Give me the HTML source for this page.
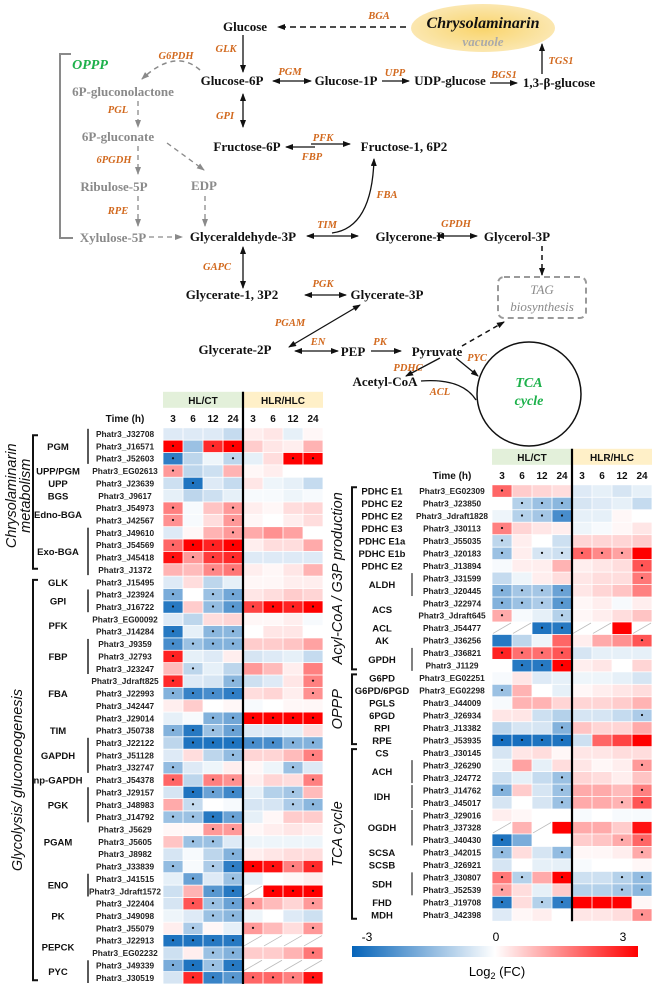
<!DOCTYPE html>
<html><head><meta charset="utf-8"><style>
html,body{margin:0;padding:0;background:#fff}
svg{display:block}
.m{font-family:"Liberation Serif",serif;font-weight:bold;font-size:13px;fill:#111;text-anchor:middle}
.g{fill:#8a8a8a}
.e{font-family:"Liberation Serif",serif;font-style:italic;font-weight:bold;font-size:10.5px;fill:#d2691e;text-anchor:middle}
.gn{font-family:"Liberation Sans",sans-serif;font-weight:bold;font-size:8.3px;fill:#222;text-anchor:middle}
.en{font-family:"Liberation Sans",sans-serif;font-weight:bold;font-size:9.5px;fill:#111;text-anchor:middle}
.hd{font-family:"Liberation Sans",sans-serif;font-weight:bold;font-size:10px;fill:#111;text-anchor:middle}
.cat{font-family:"Liberation Sans",sans-serif;font-style:italic;font-size:14.5px;fill:#111;text-anchor:middle}
</style></head><body>
<svg id="fig" width="653" height="986" viewBox="0 0 653 986" xmlns="http://www.w3.org/2000/svg">
<defs>
<marker id="ah" markerWidth="8" markerHeight="6" refX="7" refY="3" orient="auto-start-reverse" markerUnits="userSpaceOnUse"><path d="M0,0 L8,3 L0,6 z" fill="#111"/></marker>
<marker id="ahg" markerWidth="8" markerHeight="6" refX="7" refY="3" orient="auto-start-reverse" markerUnits="userSpaceOnUse"><path d="M0,0 L8,3 L0,6 z" fill="#8a8a8a"/></marker>
<linearGradient id="cbar" x1="0" x2="1" y1="0" y2="0"><stop offset="0" stop-color="#0664b9"/><stop offset="0.5" stop-color="#ffffff"/><stop offset="1" stop-color="#ff0000"/></linearGradient>
<radialGradient id="ell" cx="0.5" cy="0.5" r="0.5"><stop offset="0" stop-color="#f9d46a"/><stop offset="1" stop-color="#fbe7b0"/></radialGradient>
</defs>

<g>
<ellipse cx="483" cy="28" rx="72" ry="24" fill="url(#ell)"/>
<text x="483" y="28" class="m" style="font-style:italic;font-size:16px">Chrysolaminarin</text>
<text x="483" y="46" class="m" style="font-style:italic;font-size:13px;fill:#aaa">vacuole</text>
<line x1="406" y1="27" x2="278" y2="27" stroke="#111" stroke-width="1.5" stroke-dasharray="6,4" marker-end="url(#ah)"/>
<text x="379" y="19" class="e">BGA</text>
<text x="245" y="31" class="m">Glucose</text>
<line x1="243" y1="35" x2="243" y2="72" stroke="#111" stroke-width="1.3" marker-end="url(#ah)"/>
<text x="226" y="52" class="e">GLK</text>
<text x="232" y="85" class="m">Glucose-6P</text>
<line x1="273" y1="81" x2="311" y2="81" stroke="#111" stroke-width="1.3" marker-start="url(#ah)" marker-end="url(#ah)"/>
<text x="290" y="75" class="e">PGM</text>
<text x="346" y="85" class="m">Glucose-1P</text>
<line x1="382" y1="81" x2="409" y2="81" stroke="#111" stroke-width="1.3" marker-end="url(#ah)"/>
<text x="395" y="76" class="e">UPP</text>
<text x="450" y="85" class="m">UDP-glucose</text>
<line x1="490" y1="83" x2="517" y2="83" stroke="#111" stroke-width="1.3" marker-end="url(#ah)"/>
<text x="504" y="78" class="e">BGS1</text>
<text x="559" y="87" class="m">1,3-β-glucose</text>
<line x1="542" y1="74" x2="542" y2="44" stroke="#111" stroke-width="1.3" marker-end="url(#ah)"/>
<text x="561" y="64" class="e">TGS1</text>
<path d="M200,70 Q175,48 142,79" fill="none" stroke="#8a8a8a" stroke-width="1.5" stroke-dasharray="5,4" marker-end="url(#ahg)"/>
<text x="176" y="59" class="e">G6PDH</text>
<path d="M71,54 L60,54 L60,238 L73,238" fill="none" stroke="#8a8a8a" stroke-width="2"/>
<text x="90" y="69" class="m" style="font-style:italic;fill:#1db14b;font-size:14px">OPPP</text>
<text x="123" y="96" class="m g">6P-gluconolactone</text>
<line x1="138" y1="101" x2="138" y2="127" stroke="#8a8a8a" stroke-width="1.3" stroke-dasharray="5,4" marker-end="url(#ahg)"/>
<text x="118" y="113" class="e">PGL</text>
<text x="118" y="141" class="m g">6P-gluconate</text>
<line x1="138" y1="146" x2="138" y2="174" stroke="#8a8a8a" stroke-width="1.3" stroke-dasharray="5,4" marker-end="url(#ahg)"/>
<text x="114" y="163" class="e">6PGDH</text>
<text x="114" y="191" class="m g">Ribulose-5P</text>
<line x1="138" y1="196" x2="138" y2="226" stroke="#8a8a8a" stroke-width="1.3" stroke-dasharray="5,4" marker-end="url(#ahg)"/>
<text x="118" y="214" class="e">RPE</text>
<line x1="167" y1="143" x2="204" y2="170" stroke="#8a8a8a" stroke-width="1.3" stroke-dasharray="5,4" marker-end="url(#ahg)"/>
<text x="204" y="190" class="m g">EDP</text>
<line x1="205" y1="196" x2="205" y2="226" stroke="#8a8a8a" stroke-width="1.3" stroke-dasharray="5,4" marker-end="url(#ahg)"/>
<line x1="243" y1="94" x2="243" y2="127" stroke="#111" stroke-width="1.3" marker-start="url(#ah)" marker-end="url(#ah)"/>
<text x="225" y="119" class="e">GPI</text>
<text x="247" y="151" class="m">Fructose-6P</text>
<line x1="286" y1="147" x2="315" y2="147" stroke="#111" stroke-width="1.3" marker-start="url(#ah)"/>
<line x1="311" y1="144" x2="350" y2="144" stroke="#111" stroke-width="1.3" marker-end="url(#ah)"/>
<text x="323" y="141" class="e">PFK</text>
<text x="312" y="160" class="e">FBP</text>
<text x="404" y="151" class="m">Fructose-1, 6P2</text>
<path d="M332,233 Q372,228 374,159" fill="none" stroke="#111" stroke-width="1.3" marker-end="url(#ah)"/>
<text x="387" y="198" class="e">FBA</text>
<text x="113" y="242" class="m g">Xylulose-5P</text>
<line x1="149" y1="237" x2="182" y2="237" stroke="#8a8a8a" stroke-width="1.3" stroke-dasharray="5,4" marker-end="url(#ahg)"/>
<text x="243" y="241" class="m">Glyceraldehyde-3P</text>
<line x1="307" y1="236" x2="358" y2="236" stroke="#111" stroke-width="1.3" marker-start="url(#ah)" marker-end="url(#ah)"/>
<text x="327" y="228" class="e">TIM</text>
<text x="410" y="241" class="m">Glycerone-P</text>
<line x1="437" y1="236" x2="477" y2="236" stroke="#111" stroke-width="1.3" marker-start="url(#ah)" marker-end="url(#ah)"/>
<text x="456" y="227" class="e">GPDH</text>
<text x="517" y="241" class="m">Glycerol-3P</text>
<line x1="542" y1="246" x2="542" y2="275" stroke="#111" stroke-width="1.5" stroke-dasharray="5,4" marker-end="url(#ah)"/>
<rect x="498" y="277" width="88" height="41" rx="6" fill="none" stroke="#9a9a9a" stroke-width="2" stroke-dasharray="6,4"/>
<text x="542" y="294" class="m" style="font-style:italic;font-weight:normal;fill:#8a8a8a">TAG</text>
<text x="542" y="311" class="m" style="font-style:italic;font-weight:normal;fill:#8a8a8a">biosynthesis</text>
<line x1="243" y1="247" x2="243" y2="288" stroke="#111" stroke-width="1.3" marker-start="url(#ah)" marker-end="url(#ah)"/>
<text x="217" y="270" class="e">GAPC</text>
<text x="232" y="299" class="m">Glycerate-1, 3P2</text>
<line x1="305" y1="295" x2="346" y2="295" stroke="#111" stroke-width="1.3" marker-start="url(#ah)" marker-end="url(#ah)"/>
<text x="323" y="287" class="e">PGK</text>
<text x="387" y="299" class="m">Glycerate-3P</text>
<line x1="360" y1="305" x2="289" y2="347" stroke="#111" stroke-width="1.3" marker-start="url(#ah)" marker-end="url(#ah)"/>
<text x="290" y="326" class="e">PGAM</text>
<text x="235" y="354" class="m">Glycerate-2P</text>
<line x1="295" y1="351" x2="338" y2="351" stroke="#111" stroke-width="1.3" marker-start="url(#ah)" marker-end="url(#ah)"/>
<text x="318" y="345" class="e">EN</text>
<text x="353" y="356" class="m">PEP</text>
<line x1="371" y1="351" x2="401" y2="351" stroke="#111" stroke-width="1.3" marker-end="url(#ah)"/>
<text x="380" y="345" class="e">PK</text>
<text x="437" y="356" class="m">Pyruvate</text>
<line x1="462" y1="346" x2="504" y2="322" stroke="#111" stroke-width="1.5" stroke-dasharray="5,4" marker-end="url(#ah)"/>
<line x1="456" y1="358" x2="478" y2="376" stroke="#111" stroke-width="1.3" marker-end="url(#ah)"/>
<text x="477" y="361" class="e">PYC</text>
<line x1="440" y1="358" x2="406" y2="376" stroke="#111" stroke-width="1.3" marker-end="url(#ah)"/>
<text x="408" y="371" class="e">PDHC</text>
<text x="385" y="386" class="m">Acetyl-CoA</text>
<path d="M421,381 Q462,378 476,400" fill="none" stroke="#111" stroke-width="1.3"/>
<text x="440" y="395" class="e">ACL</text>
<circle cx="529" cy="394" r="52" fill="none" stroke="#111" stroke-width="1.5"/>
<text x="529" y="387" class="m" style="font-style:italic;fill:#1db14b;font-size:14px">TCA</text>
<text x="529" y="405" class="m" style="font-style:italic;fill:#1db14b;font-size:14px">cycle</text>
</g>

<g id="heatL"></g>
<g id="heatR"></g>

<g>
<rect x="352" y="946" width="286" height="11" fill="url(#cbar)"/>
<text x="367" y="941" style="font-family:'Liberation Sans',sans-serif;font-size:12px" text-anchor="middle">-3</text>
<text x="496" y="941" style="font-family:'Liberation Sans',sans-serif;font-size:12px" text-anchor="middle">0</text>
<text x="623" y="941" style="font-family:'Liberation Sans',sans-serif;font-size:12px" text-anchor="middle">3</text>
<text x="497" y="976" style="font-family:'Liberation Sans',sans-serif;font-size:13px" text-anchor="middle">Log<tspan font-size="9" dy="3">2</tspan><tspan dy="-3"> (FC)</tspan></text>
</g>
</svg>
<script>
var timeLabels = ["3","6","12","24","3","6","12","24"];
var groupLabels = ["HL/CT","HLR/HLC"];
var genesL = ["Phatr3_J32708","Phatr3_J16571","Phatr3_J52603","Phatr3_EG02613","Phatr3_J23639","Phatr3_J9617","Phatr3_J54973","Phatr3_J42567","Phatr3_J49610","Phatr3_J54569","Phatr3_J45418","Phatr3_J1372","Phatr3_J15495","Phatr3_J23924","Phatr3_J16722","Phatr3_EG00092","Phatr3_J14284","Phatr3_J9359","Phatr3_J2793","Phatr3_J23247","Phatr3_Jdraft825","Phatr3_J22993","Phatr3_J42447","Phatr3_J29014","Phatr3_J50738","Phatr3_J22122","Phatr3_J51128","Phatr3_J32747","Phatr3_J54378","Phatr3_J29157","Phatr3_J48983","Phatr3_J14792","Phatr3_J5629","Phatr3_J5605","Phatr3_J8982","Phatr3_J33839","Phatr3_J41515","Phatr3_Jdraft1572","Phatr3_J22404","Phatr3_J49098","Phatr3_J55079","Phatr3_J22913","Phatr3_EG02232","Phatr3_J49339","Phatr3_J30519"];
var valuesL = [
[-0.4,-0.4,-0.4,-0.7,0.2,0.3,-0.3,0.1],[3,-1.2,2.5,3,0.6,0.3,0.2,0.9],[-2.5,-0.8,-0.2,-0.8,-0.3,0.4,3,3],[1.2,-0.8,-0.6,0.9,0.1,0.2,0,0],
[-0.6,-2.7,-0.4,-0.7,0.3,-0.2,-0.3,-0.7],[-0.3,-0.8,-0.6,-0.3,-0.1,-0.1,-0.2,-0.1],[1.5,-0.1,0.7,1.2,0.2,0.1,0.4,0.5],[1.3,-0.1,0.4,1.2,0.1,0,0.2,0.4],
[-0.4,0.1,0.9,1.2,1,1.3,1.1,0],[1.8,3,2.6,3,0.2,0.4,0.4,1],[2.8,1.2,2.3,2.5,-0.4,-0.4,-0.4,-0.4],[0.9,0.8,1.4,1.6,0.2,0.1,0.3,0.9],
[-0.4,0.4,-0.8,-0.3,0.1,0.1,0.2,0.2],[-1.6,0,-1.2,-1.7,0.3,0.4,0.6,0.5],[-2.6,0.6,-1.3,-2,2.2,2.9,2.6,3],[-0.4,-0.8,0.4,0.5,0.1,0.1,0.2,-0.1],
[-2.6,-0.3,-1.4,-1.4,0,0.3,0.3,0],[-2.2,-1.2,-1.5,-1.5,0.6,0.6,0.7,1.1],[2.6,-0.3,-0.4,0.2,-0.5,-0.4,-0.3,-0.7],[0.8,-0.8,-0.3,-0.8,1.2,0.8,0.2,1.5],
[2.5,-0.4,-0.5,-1.4,-0.6,-0.4,0.3,1.5],[-1.5,-2.4,-2.2,-2.5,0.4,0.5,0.2,1.3],[0.2,0.6,0,0.1,-0.1,0,0.1,0.1],[-0.3,-0.1,-1.5,-1.7,3,3,3,3],
[-1.5,-2.6,-1.2,-1.8,-0.4,-0.4,-0.3,0.4],[-0.8,-2.7,-2.7,-2.7,-2.2,-2.2,-1.5,-1.5],[-0.4,0.4,-0.8,-1.3,0.5,0.5,0.8,1.5],[-1.3,-0.4,-0.2,0.2,0.1,-0.2,-1.2,-0.4],
[1.8,-0.8,1.5,1.3,0.2,0.5,0.4,1.5],[-0.5,-2.7,-1.8,-2.3,-0.3,-0.9,-1.1,0.8],[1,-0.7,0,-0.1,-0.5,-0.5,-1,-1.4],[-1.2,-1.2,-2.6,-1.8,-0.3,0.1,0.6,0.6],
[0.1,0.1,1.2,1.2,0.1,0.2,0.3,0.2],[0.7,-1.2,-1.2,-0.4,-0.2,-0.2,-0.2,-0.2],[-0.5,-0.1,-0.8,-1.5,0.2,0.3,0.4,0.4],[-1.3,-0.1,-1,-2.5,3,2.8,1.5,2.5],
[-0.3,-1.8,-0.4,-1.2,-0.3,0,0.1,0.2],[-0.6,0.9,-2,-2.6,null,3,3,3],[-0.5,2,-1.2,-1.8,1.2,0.8,0.5,1.2],[-0.2,-0.4,-1.2,-1.4,-0.2,0,-0.4,-0.6],
[0.2,-1,0.1,-0.3,1.2,0.8,0.4,1.2],[-2.7,-2.7,-2.6,-2.6,null,null,null,null],[-0.6,0.2,-1.2,-1.5,0.6,0.6,0.9,1.6],[-1.6,-2.7,-1.2,-2.6,null,null,null,null],
[-0.5,2.5,-2.4,-2,1.8,1.8,1.5,2.8]];
var starsL = ["00000000","10110000","10010011","10000000","01000000","00000000","10010000","10010000","00010000","11110000","11110000","00110000",
"00000000","10110000","10111111","00000000","10110000","11110000","10000000","01000000","10010001","11110001","00000000","00111111","11110000","01111111",
"00010001","10000010","10110001","01110010","01000011","11110000","00110000","01100000","00010000","10111111","01010000","00110111","01111001","00110000",
"01001001","11110000","00110001","11110000","01111111"];
var enzL = [["PGM",1],["UPP/PGM",3],["UPP",4],["BGS",5],["Edno-BGA",6.5],["Exo-BGA",9.5],["GLK",12],["GPI",13.5],["PFK",15.5],["FBP",18],["FBA",21],["TIM",24],["GAPDH",26],["np-GAPDH",28],["PGK",30],["PGAM",33],["ENO",36.5],["PK",39],["PEPCK",41.5],["PYC",43.5]];
var linesL = [[0,2],[8,11],[13,14],[17,19],[25,27],[29,31],[36,37],[43,44]];

var genesR = ["Phatr3_EG02309","Phatr3_J23850","Phatr3_Jdraft1828","Phatr3_J30113","Phatr3_J55035","Phatr3_J20183","Phatr3_J13894","Phatr3_J31599","Phatr3_J20445","Phatr3_J22974","Phatr3_Jdraft645","Phatr3_J54477","Phatr3_J36256","Phatr3_J36821","Phatr3_J1129","Phatr3_EG02251","Phatr3_EG02298","Phatr3_J44009","Phatr3_J26934","Phatr3_J13382","Phatr3_J53935","Phatr3_J30145","Phatr3_J26290","Phatr3_J24772","Phatr3_J14762","Phatr3_J45017","Phatr3_J29016","Phatr3_J37328","Phatr3_J40430","Phatr3_J42015","Phatr3_J26921","Phatr3_J30807","Phatr3_J52539","Phatr3_J19708","Phatr3_J42398"];
var valuesR = [
[1.8,0.6,0.5,0.4,-0.4,-0.3,-0.5,-0.3],[0,-0.9,-1.2,-1.4,-0.5,-0.4,-0.3,-0.7],[-0.2,-0.9,-1.1,-2.2,-0.3,-0.3,0.1,0],[1.5,0.5,0.3,0.2,-0.2,-0.1,0.1,0.3],
[-0.8,0.2,0,-0.6,0.5,0.5,0.5,0.6],[-1.2,0.2,-0.5,-0.6,1.8,1.4,1.1,3],[-0.1,0.2,0.2,0.9,0.2,0.3,0.4,2],[-0.7,-0.2,0.2,0.4,0.3,0.4,0.4,1.6],
[-1.5,-1.1,-1.1,-1.8,0.3,0.5,0.7,1.5],[-1.5,-1.2,-1,-2,0.1,0.2,-0.1,0.2],[1,-0.1,-0.3,-0.9,0.1,0.2,0.4,0.7],[null,null,-2.7,-2.6,null,null,3,null],
[-2.6,-0.8,-0.2,1.8,0.2,1,1.3,2],[2.6,1.7,1.7,2,-0.5,-0.3,-0.3,-0.3],[0,-2.6,-2.6,3,0.2,0.3,0,0.5],[-0.1,0.3,-0.4,-0.3,-0.2,-0.2,-0.3,-0.5],
[-1.2,0.9,0,-0.3,0.1,0.2,0.3,0.4],[-0.1,0.9,0.9,0.5,0.5,0.5,0.6,0.9],[0.3,0.3,-0.6,-0.9,-0.5,-0.5,-0.7,-1],[-0.8,-0.5,-0.5,-1.5,0.7,0.5,0.5,1],
[-2.8,-2.8,-2.7,-2.7,-0.6,1.8,2.2,3],[-0.5,0.3,0.4,0.1,0.3,0.3,0.4,0.4],[-0.2,1.1,-0.3,0.4,0.3,0.1,0.2,1.2],[-0.6,-0.3,-0.7,-1.2,0.5,0.4,0.2,0.7],
[-1.5,0.6,-0.5,-1.2,1,1,0.8,1.5],[-0.5,0,-0.5,-1.2,1,1,0.9,2],[0.2,0.1,0,0,-0.1,0,-0.1,-0.1],[null,0.9,null,3,1,1,0.6,2.8],
[-2.7,-1.6,0,0,0.6,0.7,1,1.8],[-1.3,0.4,-0.5,-1.3,0.1,0.1,0.2,1],[-0.5,0,-0.3,-0.3,-0.1,0,0,0.1],[1.6,-0.9,1,3,-0.6,-0.6,-0.9,-1.3],
[1.1,0.4,-0.3,0.6,-0.9,-0.9,-1.1,-1.4],[-2.6,0.4,-0.9,-2.5,3,3,3,0.1],[-0.4,0.1,0.2,0,0.3,0.3,0.4,1.3]];
var starsR = ["10000000","01110000","01110000","10000000","10000000","10111110","00000001","00000001","11110000","11110000","10010000","00110000","00000001",
"11110000","01110000","00000000","10000000","00000000","00000001","00010000","11110000","00000000","00000001","00010000","10010001","00010011","00000000",
"00000000","10000011","10010001","00000000","11010011","10000011","10110000","00000001"];
var enzR = [["PDHC E1",0],["PDHC E2",1],["PDHC E2",2],["PDHC E3",3],["PDHC E1a",4],["PDHC E1b",5],["PDHC E2",6],["ALDH",7.5],["ACS",9.5],["ACL",11],["AK",12],["GPDH",13.5],["G6PD",15],["G6PD/6PGD",16],["PGLS",17],["6PGD",18],["RPI",19],["RPE",20],["CS",21],["ACH",22.5],["IDH",24.5],["OGDH",27],["SCSA",29],["SCSB",30],["SDH",31.5],["FHD",33],["MDH",34]];
var linesR = [[7,8],[13,14],[22,23],[24,25],[26,28],[31,32]];

var NS = "http://www.w3.org/2000/svg";
function mk(tag, attrs, parent){var e=document.createElementNS(NS,tag);for(var k in attrs)e.setAttribute(k,attrs[k]);parent.appendChild(e);return e;}
function col(v){
  var t=Math.min(Math.abs(v)/3,1);
  if(v>=0){return "rgb(255,"+Math.round(255*(1-t))+","+Math.round(255*(1-t))+")";}
  return "rgb("+Math.round(255-(255-6)*t)+","+Math.round(255-(255-100)*t)+","+Math.round(255-(255-185)*t)+")";
}
function drawHeat(g, genes, values, stars, enz, lines, cfg){
  var x = function(c){return cfg.x0 + c*20;};
  var y = function(r){return cfg.y0 + r*cfg.rh;};
  var top = y(0), bot = y(genes.length);
  var hy = top - 36;
  for (var k=0;k<2;k++){
    var hr = mk("rect",{x:x(k*4),y:hy,width:80,height:16,fill:k?"#fff0c8":"#e3f0da"},g);
    
    
    var ht = mk("text",{x:x(k*4)+40,y:hy+12,"class":"hd"},g); ht.textContent = groupLabels[k];
    
    
  }
  var tt = mk("text",{x:cfg.lx,y:top-6,"class":"hd","font-size":"9.5"},g); tt.textContent="Time (h)";
  
  
  for (var c=0;c<8;c++){
    var tl = mk("text",{x:x(c)+10,y:top-6,"class":"hd"},g); tl.textContent = timeLabels[c];
    
    
  }
  for (var r=0;r<genes.length;r++){
    for (c=0;c<8;c++){
      var v = values[r][c];
      var cell = mk("rect",{x:x(c)+0.4,y:y(r)+0.4,width:19.2,height:cfg.rh-0.8,fill:v===null?"#ffffff":col(v)},g);
      
      
      if (v===null){ mk("line",{x1:x(c)+1,y1:y(r+1)-1,x2:x(c)+19,y2:y(r)+1,stroke:"#bbb","stroke-width":0.8},g); }
      if (stars[r][c]==="1"){
        var s = mk("circle",{cx:x(c)+10,cy:y(r)+cfg.rh/2-0.5,r:1.1,fill:"#111"},g);
        
        
      }
    }
    var gl = mk("text",{x:cfg.lx,y:y(r)+cfg.rh/2+3,"class":"gn"},g); gl.textContent = genes[r];
    
    
  }
  var dv = mk("line",{x1:x(4),y1:hy,x2:x(4),y2:bot,stroke:"#000","stroke-width":2.2},g);
  
  
  for (var i=0;i<enz.length;i++){
    var et = mk("text",{x:cfg.ex,y:y(enz[i][1])+cfg.rh/2+3.5,"class":"en"},g); et.textContent = enz[i][0];
    
    
  }
  for (i=0;i<lines.length;i++){
    mk("line",{x1:cfg.gx,y1:y(lines[i][0])+1,x2:cfg.gx,y2:y(lines[i][1]+1)-1,stroke:cfg.lc,"stroke-width":1.5},g);
  }
  return {x:x,y:y};
}
var L = drawHeat(document.getElementById("heatL"), genesL, valuesL, starsL, enzL, linesL, {x0:163,y0:427.8,rh:12.36,lx:125,ex:58,gx:88,lc:"#222"});
var R = drawHeat(document.getElementById("heatR"), genesR, valuesR, starsR, enzR, linesR, {x0:492,y0:484.8,rh:12.47,lx:452,ex:382,gx:412,lc:"#555"});

var svg = document.getElementById("fig");
function bracket(xb, y1, y2, name){
  var p = mk("path",{d:"M"+(xb+5)+","+y1+" L"+xb+","+y1+" L"+xb+","+y2+" L"+(xb+5)+","+y2,fill:"none",stroke:"#111","stroke-width":2},svg);
  
  
}
function rot(txt, cx, cy, name){
  var t = mk("text",{x:cx,y:cy,"class":"cat",transform:"rotate(-90 "+cx+" "+cy+")"},svg); t.textContent = txt;
  
  
}
bracket(33, L.y(0.6), L.y(11.4), "chrysolaminarin-bracket");
bracket(33, L.y(12.3), L.y(44.7), "glycolysis-bracket");
rot("Chrysolaminarin", 16, L.y(5.5), "chrysolaminarin-category-label");
rot("metabolism", 30, L.y(5.5), "chrysolaminarin-category-label-2");
rot("Glycolysis/ gluconeogenesis", 22, L.y(28.5), "glycolysis-category-label");
bracket(352, R.y(0.2), R.y(14.8), "acyl-coa-bracket");
bracket(352, R.y(15.2), R.y(20.8), "oppp-bracket");
bracket(352, R.y(21.2), R.y(34.8), "tca-bracket");
rot("Acyl-CoA / G3P production", 342, R.y(7.5), "acyl-coa-category-label");
rot("OPPP", 342, R.y(18), "oppp-category-label");
rot("TCA cycle", 342, R.y(28), "tca-category-label");
</script>
</body></html>
